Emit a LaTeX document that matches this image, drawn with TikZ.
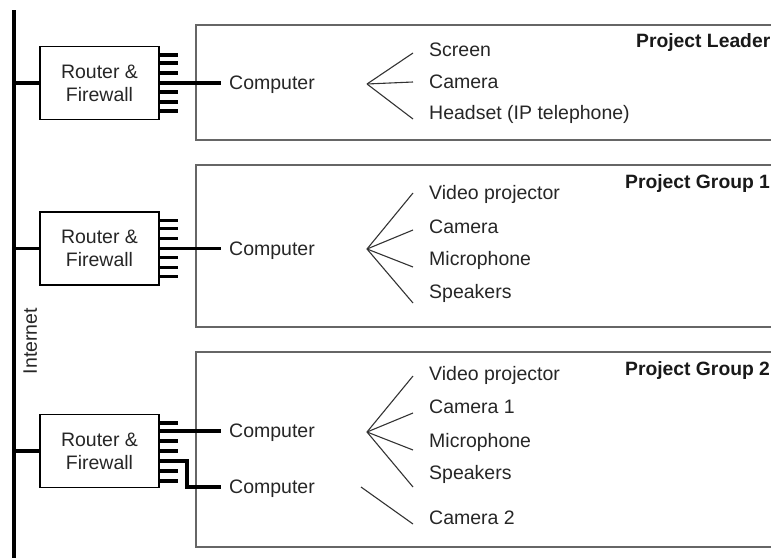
\documentclass[tikz,border=0pt]{standalone}
\usepackage{fontspec}
\setmainfont{Liberation Sans}
\usetikzlibrary{calc}
\begin{document}
\begin{tikzpicture}[x=1pt,y=-1pt,
  thickline/.style={line width=3.4pt},
  tickline/.style={line width=3.1pt},
  fanline/.style={line width=1.1pt,draw=black!80},
  grouprect/.style={draw=black!60,line width=1.7pt},
  router/.style={draw,line width=1.3pt,minimum width=119pt,minimum height=73pt,inner sep=0pt,align=center,font=\fontsize{19.5}{23}\selectfont,text=black!85},
  lbl/.style={anchor=west,inner xsep=0pt,inner ysep=0pt,text height=13.9pt,text depth=0pt,font=\fontsize{19.5}{23}\selectfont,text=black!85},
  comp/.style={lbl,inner xsep=8pt},
  dev/.style={lbl,inner xsep=16pt},
  grp/.style={anchor=base west,inner sep=0pt,font=\fontsize{19.3}{22}\selectfont\bfseries,text=black!90}
]
\useasboundingbox (0,0) rectangle (771,557);
\clip (0,0) rectangle (771,557);

% Internet backbone
\coordinate (itop) at (14,10);
\coordinate (ibot) at (14,560);
\draw[thickline] (itop) -- (ibot);
\node[lbl,rotate=90,anchor=center] (inet) at (30,341) {Internet};

% group boxes
\draw[grouprect] (196,25) rectangle (790,140);
\draw[grouprect] (196,165) rectangle (790,327);
\draw[grouprect] (196,352) rectangle (790,547);
\node[grp] (g1) at (636,47) {Project Leader};
\node[grp] (g2) at (625,188) {Project Group 1};
\node[grp] (g3) at (625,375) {Project Group 2};

% routers
\node[router] (r1) at (99.5,83) {Router \&\\Firewall};
\node[router] (r2) at (99.5,248.5) {Router \&\\Firewall};
\node[router] (r3) at (99.5,451) {Router \&\\Firewall};
\draw[thickline] (r1.west) -- (r1.west -| itop);
\draw[thickline] (r2.west) -- (r2.west -| itop);
\draw[thickline] (r3.west) -- (r3.west -| itop);

% port ticks
\foreach \d in {-28,-20,-10,9,19,28}{
  \draw[tickline] ($(r1.east)+(0,\d)$) -- ++(18,0);
  \draw[tickline] ($(r2.east)+(0,\d)$) -- ++(18,0);
}
\foreach \d in {-28,-10,0,20,30}{
  \draw[tickline] ($(r3.east)+(0,\d)$) -- ++(18,0);
}

% computers
\node[comp] (c1) at (221,83) {Computer};
\node[comp] (c2) at (221,248.5) {Computer};
\node[comp] (c3) at (221,431) {Computer};
\node[comp] (c4) at (221,487) {Computer};
\draw[thickline] (r1.east) -- (c1.west);
\draw[thickline] (r2.east) -- (c2.west);
\draw[thickline] ($(r3.east)+(0,-20)$) -- (c3.west);
\draw[thickline] ($(r3.east)+(0,10)$) -| (187,487) -- (c4.west);

% devices group 1
\coordinate (f1) at (367,84);
\node[dev] (d11) at (413,50) {Screen};
\node[dev] (d12) at (413,82) {Camera};
\node[dev] (d13) at (413,113) {Headset (IP telephone)};
\draw[fanline] (f1) -- ($(d11.west)+(0,3)$);
\draw[fanline] (f1) -- (d12.west);
\draw[fanline] (f1) -- ($(d13.west)+(0,6)$);

% devices group 2
\coordinate (f2) at (367,249);
\node[dev] (d21) at (413,193) {Video projector};
\node[dev] (d22) at (413,227) {Camera};
\node[dev] (d23) at (413,259) {Microphone};
\node[dev] (d24) at (413,292) {Speakers};
\draw[fanline] (f2) -- (d21.west);
\draw[fanline] (f2) -- ($(d22.west)+(0,3)$);
\draw[fanline] (f2) -- ($(d23.west)+(0,8)$);
\draw[fanline] (f2) -- ($(d24.west)+(0,11)$);

% devices group 3
\coordinate (f3) at (367,432);
\node[dev] (d31) at (413,374) {Video projector};
\node[dev] (d32) at (413,407) {Camera 1};
\node[dev] (d33) at (413,441) {Microphone};
\node[dev] (d34) at (413,473) {Speakers};
\node[dev] (d35) at (413,518) {Camera 2};
\draw[fanline] (f3) -- ($(d31.west)+(0,2)$);
\draw[fanline] (f3) -- ($(d32.west)+(0,6)$);
\draw[fanline] (f3) -- ($(d33.west)+(0,9)$);
\draw[fanline] (f3) -- ($(d34.west)+(0,14)$);
\coordinate (f4) at (361,487);
\draw[fanline] (f4) -- ($(d35.west)+(0,6)$);
\end{tikzpicture}
\end{document}
